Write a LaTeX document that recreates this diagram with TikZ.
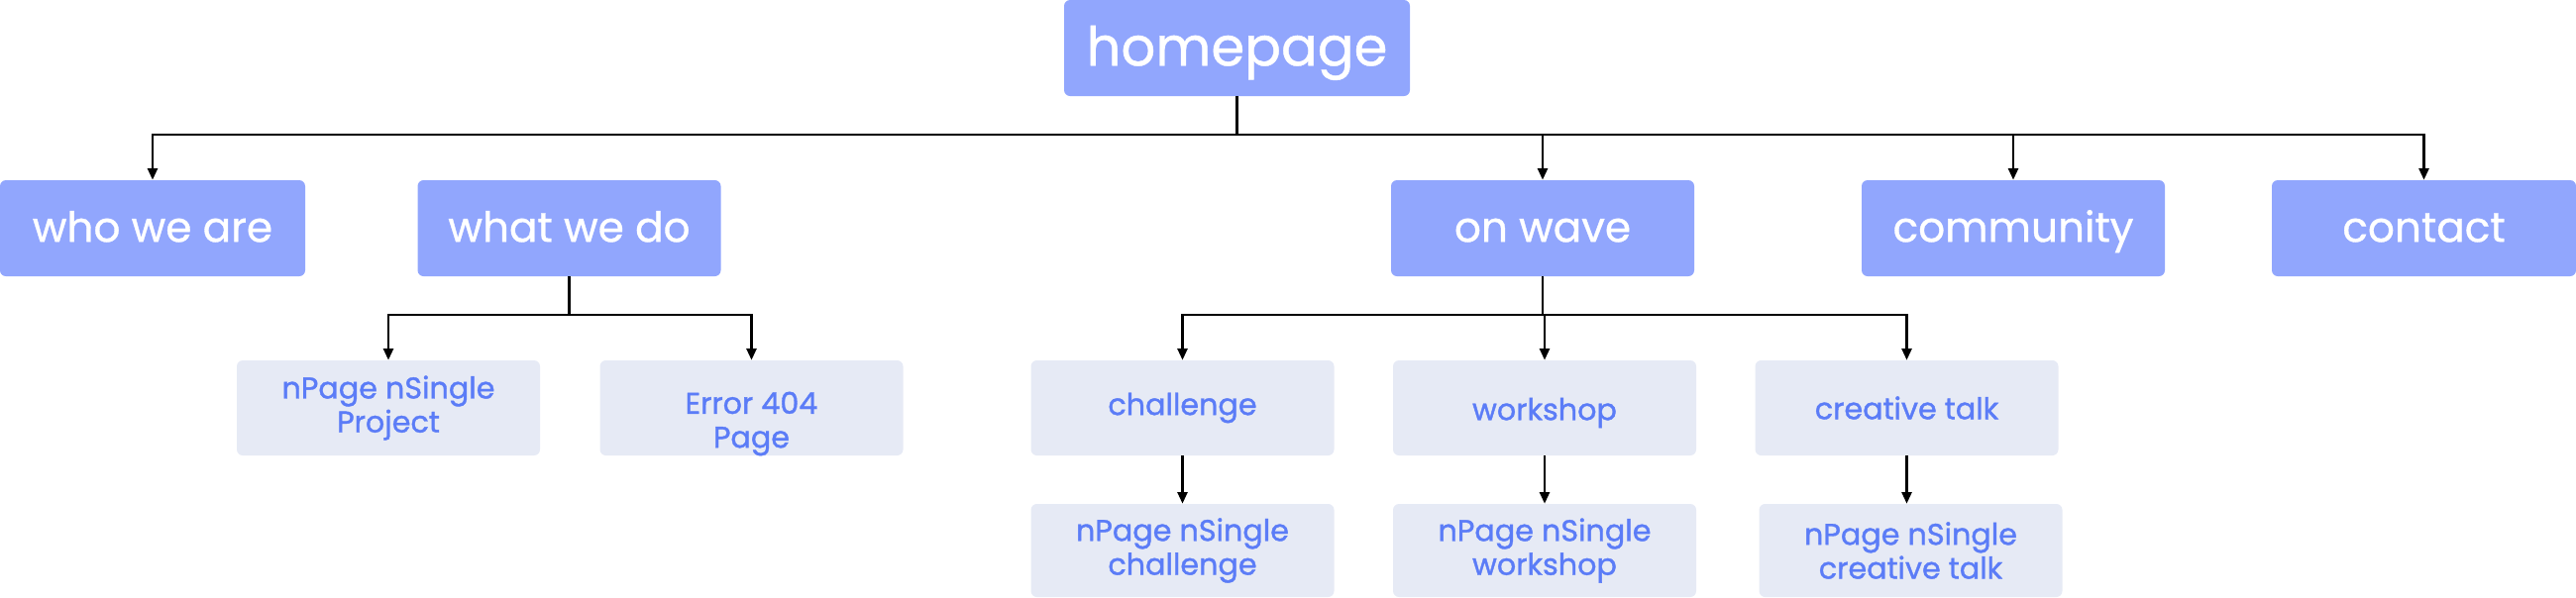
\documentclass[tikz,border=0pt]{standalone}
\usepackage{fontspec}
\setmainfont{Poppins}
\newfontfamily\topfont{Poppins}[FakeBold=0.8]
\newfontfamily\subfont{Poppins}[FakeBold=1.2]
\usetikzlibrary{arrows.meta,calc}
\definecolor{topblue}{HTML}{91A6FD}
\definecolor{lightbox}{HTML}{E6EAF5}
\definecolor{lighttext}{HTML}{5B7CF7}
\begin{document}
\begin{tikzpicture}[x=0.02cm,y=-0.02cm,
  topbox/.style={fill=topblue, rounded corners=0.12cm, inner sep=0pt, text=white,
    minimum width=306*0.02cm, minimum height=97*0.02cm, text height=20pt, text depth=4.4pt,
    font=\topfont\fontsize{24}{28}\selectfont},
  subfnt/.style={font=\subfont\fontsize{17.2}{19.5}\selectfont},
  subbox/.style={fill=lightbox, rounded corners=0.12cm, inner sep=0pt, text=lighttext,
    minimum width=306*0.02cm, minimum height=96*0.02cm, align=center, subfnt},
  conn/.style={line width=1.2pt, -{Triangle[length=0.23cm,width=0.2cm]}},
  plain/.style={line width=1.2pt}]
\useasboundingbox (0,0) rectangle (2600,603);
% top
\node[topbox, minimum width=349*0.02cm, text height=26pt, text depth=5.8pt, font=\topfont\fontsize{31}{36}\selectfont] (home) at (1248.5,48.5) {homepage};
\node[topbox, minimum width=308*0.02cm] (who) at (154,230.5) {who we are};
\node[topbox] (what) at (574.5,230.5) {what we do};
\node[topbox] (wave) at (1557,230.5) {on wave};
\node[topbox] (comm) at (2032,230.5) {community};
\node[topbox, minimum width=307*0.02cm] (cont) at (2446.5,230.5) {contact};
% second level
\node[subbox] (proj) at (392,412) {nPage nSingle\\Project};
\node[subbox] (err) at (758.5,412) {};
\node[text=lighttext, subfnt, align=center] (errt) at (758.5,428) {Error 404\\Page};
\node[subbox] (chal) at (1193.5,412) {challenge};
\node[subbox] (work) at (1559,412) {};
\node[text=lighttext, subfnt] (workt) at (1559,417) {workshop};
\node[subbox] (crea) at (1924.5,412) {creative talk};
% third level
\node[subbox, minimum height=94*0.02cm] (nchal) at (1193.5,556) {nPage nSingle\\challenge};
\node[subbox, minimum height=94*0.02cm] (nwork) at (1559,556) {nPage nSingle\\workshop};
\node[subbox, minimum height=94*0.02cm] (ncrea) at (1928.5,556) {nPage nSingle\\creative talk};
% buses
\coordinate (bus) at (0,136);
\coordinate (bus2) at (0,318);
\draw[plain] (home.south) -- (home.south |- bus);
\draw[conn] (home.south |- bus) -| (who.north);
\draw[conn] (home.south |- bus) -| (wave.north);
\draw[conn] (home.south |- bus) -| (comm.north);
\draw[conn] (home.south |- bus) -| (cont.north);
\draw[plain] (what.south) -- (what.south |- bus2);
\draw[conn] (what.south |- bus2) -| (proj.north);
\draw[conn] (what.south |- bus2) -| (err.north);
\draw[plain] (wave.south) -- (wave.south |- bus2);
\draw[conn] (wave.south |- bus2) -| (chal.north);
\draw[conn] (work.north |- bus2) -- (work.north);
\draw[conn] (wave.south |- bus2) -| (crea.north);
\draw[conn] (chal.south) -- (nchal.north);
\draw[conn] (work.south) -- (nwork.north);
\draw[conn] (crea.south) -- (crea.south |- ncrea.north);
\end{tikzpicture}
\end{document}
